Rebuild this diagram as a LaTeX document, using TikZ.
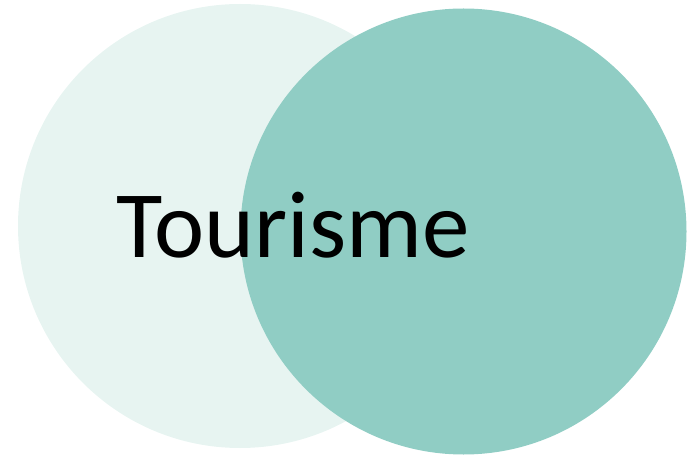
\documentclass[tikz,border=0pt]{standalone}
\usepackage{fontspec}
\setmainfont{Carlito}
\definecolor{lightteal}{HTML}{E7F4F1}
\definecolor{darkteal}{HTML}{90CDC4}
\begin{document}
\begin{tikzpicture}[x=1pt,y=-1pt,
  venn/.style={circle,inner sep=0pt,outer sep=0pt,draw=none},
  label/.style={font=\fontsize{95}{100}\selectfont,text=black,inner sep=0pt}]
\useasboundingbox (0,0) rectangle (698,462);
\node[venn,fill=lightteal,minimum size=444pt] (left) at (240,226) {};
\node[venn,fill=darkteal,minimum size=446pt] (right) at (463.5,231.5) {};
\node[label,anchor=base] (txt) at (293,258) {Tourisme};
\end{tikzpicture}
\end{document}
